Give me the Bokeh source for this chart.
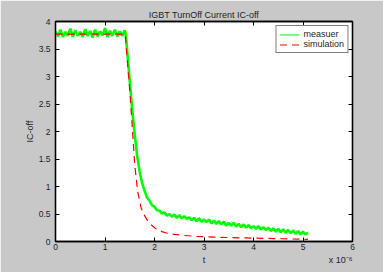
from bokeh.plotting import figure
from bokeh.models import Range1d, LinearAxis, FixedTicker, Legend, LegendItem
from bokeh.embed import file_html
from bokeh.resources import INLINE

# ---- data (time in units of 1e-6 s) ----
meas_t = [0.00, 0.05, 0.10, 0.15, 0.20, 0.25, 0.30, 0.35, 0.40, 0.45, 0.50, 0.55, 0.60, 0.65,
          0.70, 0.75, 0.80, 0.85, 0.90, 0.95, 1.00, 1.05, 1.10, 1.15, 1.20, 1.25, 1.30, 1.35,
          1.40, 1.42, 1.45, 1.50, 1.55, 1.60, 1.65, 1.70, 1.75, 1.80, 1.85, 1.90, 1.95, 2.00,
          2.05, 2.10, 2.15, 2.20, 2.25, 2.30, 2.35, 2.40, 2.45, 2.50, 2.55, 2.60, 2.65, 2.70,
          2.75, 2.80, 2.85, 2.90, 2.95, 3.00, 3.05, 3.10, 3.15, 3.20, 3.25, 3.30, 3.35, 3.40,
          3.45, 3.50, 3.55, 3.60, 3.65, 3.70, 3.75, 3.80, 3.85, 3.90, 3.95, 4.00, 4.05, 4.10,
          4.15, 4.20, 4.25, 4.30, 4.35, 4.40, 4.45, 4.50, 4.55, 4.60, 4.65, 4.70, 4.75, 4.80,
          4.85, 4.90, 4.95, 5.00, 5.05, 5.10]
meas_ic = [3.82, 3.73, 3.85, 3.72, 3.81, 3.74, 3.87, 3.72, 3.84, 3.74, 3.81, 3.72, 3.86, 3.74,
           3.83, 3.71, 3.85, 3.73, 3.82, 3.75, 3.88, 3.72, 3.83, 3.74, 3.85, 3.73, 3.82, 3.74,
           3.84, 3.76, 3.45, 2.92, 2.40, 1.95, 1.56, 1.27, 1.06, 0.92, 0.80, 0.74, 0.66, 0.63,
           0.57, 0.56, 0.51, 0.53, 0.47, 0.50, 0.45, 0.49, 0.43, 0.48, 0.42, 0.46, 0.41, 0.44,
           0.39, 0.43, 0.37, 0.42, 0.36, 0.40, 0.35, 0.40, 0.33, 0.38, 0.32, 0.37, 0.31, 0.36,
           0.29, 0.34, 0.29, 0.34, 0.27, 0.32, 0.26, 0.31, 0.25, 0.30, 0.24, 0.28, 0.23, 0.28,
           0.22, 0.26, 0.21, 0.25, 0.19, 0.24, 0.18, 0.23, 0.17, 0.22, 0.16, 0.21, 0.15, 0.20,
           0.14, 0.19, 0.13, 0.18, 0.13, 0.16]

sim_t = [0.00, 1.41, 1.45, 1.50, 1.55, 1.60, 1.66, 1.73, 1.80, 1.86, 1.95, 2.03, 2.15, 2.26,
         2.40, 2.59, 2.85, 3.20, 3.50, 3.84, 4.20, 4.60, 5.03, 5.10]
sim_ic = [3.77, 3.77, 3.30, 2.75, 2.10, 1.40, 0.91, 0.61, 0.47, 0.38, 0.29, 0.23, 0.18, 0.15,
          0.13, 0.11, 0.094, 0.08, 0.072, 0.065, 0.057, 0.05, 0.04, 0.04]

x_ticks = [0, 1, 2, 3, 4, 5, 6]
y_ticks = [0, 0.5, 1, 1.5, 2, 2.5, 3, 3.5, 4]
y_tick_labels = ["0", "0.5", "1", "1.5", "2", "2.5", "3", "3.5", "4"]

FONT = "Liberation Sans"
TXT = "#1e1e1e"

p = figure(width=383, height=272, x_range=Range1d(0, 6), y_range=Range1d(0, 4),
           output_backend="svg", toolbar_location=None,
           min_border_left=55, min_border_right=31, min_border_top=21, min_border_bottom=31,
           background_fill_color="white", border_fill_color="#c8c8c8",
           outline_line_color="black", outline_line_width=1.3)

p.title.text = "IGBT TurnOff Current IC-off"
p.title.align = "center"
p.title.text_font = FONT
p.title.text_font_size = "9px"
p.title.text_font_style = "normal"
p.title.text_color = TXT
p.title.standoff = 4

p.grid.visible = False

for ax in (p.xaxis[0], p.yaxis[0]):
    ax.major_tick_in = 4
    ax.major_tick_out = 0
    ax.minor_tick_in = 0
    ax.minor_tick_out = 0
    ax.axis_line_color = "black"
    ax.axis_line_width = 1.3
    ax.major_tick_line_color = "black"
    ax.major_label_text_font = FONT
    ax.major_label_text_font_size = "8.5px"
    ax.major_label_text_color = TXT
    ax.axis_label_text_font = FONT
    ax.axis_label_text_font_size = "9px"
    ax.axis_label_text_font_style = "normal"
    ax.axis_label_text_color = TXT
    ax.axis_label_standoff = 1

p.xaxis[0].ticker = FixedTicker(ticks=x_ticks)
p.xaxis[0].axis_label = None
p.xaxis[0].major_label_standoff = 2
p.yaxis[0].ticker = FixedTicker(ticks=y_ticks)
p.yaxis[0].major_label_overrides = {t: l for t, l in zip(y_ticks, y_tick_labels)}
p.yaxis[0].axis_label = "IC-off"
p.yaxis[0].major_label_standoff = 5

# second row under the x axis: axis title "t" and the scale factor
title_ticks = [3, 5.76]
title_labels = ["t", "x 10\u207b\u2076"]
ax2 = LinearAxis(ticker=FixedTicker(ticks=title_ticks), axis_label=None,
                 major_label_overrides={t: l for t, l in zip(title_ticks, title_labels)},
                 major_tick_line_color=None, minor_tick_line_color=None, axis_line_color=None,
                 major_tick_in=0, major_tick_out=0, minor_tick_in=0, minor_tick_out=0,
                 major_label_standoff=2, major_label_text_font=FONT,
                 major_label_text_font_size="9px", major_label_text_color=TXT)
p.add_layout(ax2, "below")

# box ticks on top and right (MATLAB style)
for loc, ticks in (("above", x_ticks), ("right", y_ticks)):
    ax = LinearAxis(ticker=FixedTicker(ticks=ticks), major_tick_in=4, major_tick_out=0,
                    minor_tick_in=0, minor_tick_out=0, major_label_text_font_size="1px",
                    major_label_text_color=None, major_label_standoff=0, axis_label=None,
                    axis_line_color="black", axis_line_width=1.3)
    p.add_layout(ax, loc)

g = p.line(meas_t, meas_ic, line_color="#00ff00", line_width=2.6)
r = p.line(sim_t, sim_ic, line_color="#ff0000", line_width=1.2, line_dash="7 5")
# thin proxy line (no visible data) for the legend entry of the measured curve
nan = float("nan")
g_key = p.line(x=[nan], y=[nan], line_color="#55ff55", line_width=1.5)

legend = Legend(items=[LegendItem(label="measuer", renderers=[g_key]),
                       LegendItem(label="simulation", renderers=[r])],
                location="top_right", margin=4, padding=3, spacing=0,
                glyph_width=20, glyph_height=9, label_height=9, label_standoff=4,
                label_text_font=FONT, label_text_font_size="9px", label_text_color=TXT,
                border_line_color="black", border_line_width=1.3,
                background_fill_color="white", background_fill_alpha=1)
p.add_layout(legend)

open("out.html", "w").write(file_html(p, INLINE))
